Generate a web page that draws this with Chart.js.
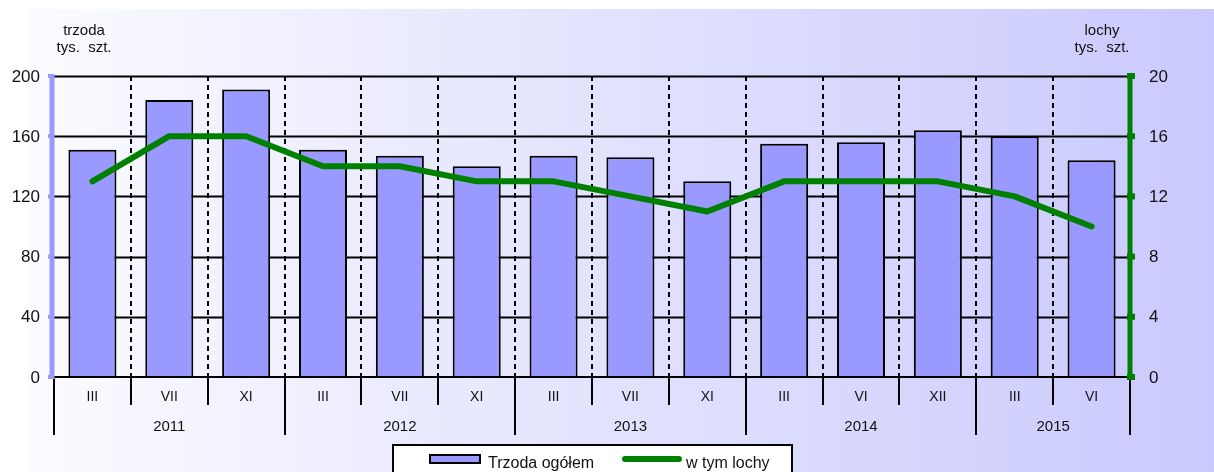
<!DOCTYPE html>
<html>
<head>
<meta charset="utf-8">
<script src="https://cdn.jsdelivr.net/npm/chart.js@4"></script>
<style>
  html, body { margin: 0; padding: 0; background: #fff; }
  canvas { display: block; }
</style>
</head>
<body>
<canvas id="myChart" width="1214" height="472"></canvas>
<script>
// categories
var months = ['III', 'VII', 'XI', 'III', 'VII', 'XI', 'III', 'VII', 'XI', 'III', 'VI', 'XII', 'III', 'VI'];
var periodYears = ['2011', '2011', '2011', '2012', '2012', '2012', '2013', '2013', '2013', '2014', '2014', '2014', '2015', '2015'];

// series (tys. szt.)
var trzoda = [151, 184, 191, 151, 147, 140, 147, 146, 130, 155, 156, 164, 160, 144];
var lochy = [13, 16, 16, 14, 14, 13, 13, 12, 11, 13, 13, 13, 12, 10];

// tick labels
var leftTicks = [0, 40, 80, 120, 160, 200];
var rightTicks = [0, 4, 8, 12, 16, 20];

var FONT = '"Liberation Sans", Arial, sans-serif';

var decor = {
    id: 'decor',
    beforeDraw: function (chart) {
        var c = chart.ctx;
        c.save();
        c.fillStyle = '#ffffff';
        c.fillRect(0, 0, chart.width, chart.height);
        var g = c.createLinearGradient(27, 0, chart.width, 0);
        g.addColorStop(0, '#fbfbff');
        g.addColorStop(1, '#c9c9fd');
        c.fillStyle = g;
        c.fillRect(27, 9, chart.width - 27, chart.height - 9);
        c.restore();
    },
    beforeDatasetsDraw: function (chart) {
        var c = chart.ctx, a = chart.chartArea;
        var x = chart.scales.x, y = chart.scales.y;
        c.save();
        // horizontal grid
        c.strokeStyle = '#000';
        c.lineWidth = 2;
        leftTicks.forEach(function (t) {
            if (t === 0) return;
            var py = Math.round(y.getPixelForValue(t)) + 0.5;
            c.beginPath(); c.moveTo(a.left, py); c.lineTo(a.right, py); c.stroke();
        });
        // dashed category separators
        c.setLineDash([5, 4]);
        c.lineWidth = 2;
        for (var i = 1; i < months.length; i++) {
            var px = Math.round((x.getPixelForValue(i - 1) + x.getPixelForValue(i)) / 2);
            c.beginPath(); c.moveTo(px, a.top); c.lineTo(px, a.bottom); c.stroke();
        }
        c.restore();
    },
    afterDatasetsDraw: function (chart) {
        var c = chart.ctx, a = chart.chartArea;
        var x = chart.scales.x, y = chart.scales.y, y1 = chart.scales.y1;
        var n = months.length;
        function edge(i) {
            if (i === 0) return a.left;
            if (i === n) return a.right;
            return (x.getPixelForValue(i - 1) + x.getPixelForValue(i)) / 2;
        }
        c.save();
        // x axis baseline
        c.strokeStyle = '#000';
        c.lineWidth = 2;
        c.beginPath(); c.moveTo(a.left, a.bottom); c.lineTo(a.right, a.bottom); c.stroke();
        // category ticks & year separators
        for (var i = 0; i <= n; i++) {
            var px = Math.round(edge(i));
            var yearEdge = (i === 0 || i === n || periodYears[i] !== periodYears[i - 1]);
            c.beginPath(); c.moveTo(px, a.bottom); c.lineTo(px, yearEdge ? a.bottom + 58 : a.bottom + 28); c.stroke();
        }
        // month labels
        c.fillStyle = '#111';
        c.textAlign = 'center';
        c.textBaseline = 'middle';
        c.font = '14px ' + FONT;
        months.forEach(function (m, i) {
            c.fillText(m, x.getPixelForValue(i), a.bottom + 20);
        });
        // year labels
        c.font = '15px ' + FONT;
        var start = 0;
        for (var j = 1; j <= n; j++) {
            if (j === n || periodYears[j] !== periodYears[start]) {
                c.fillText(periodYears[start], (edge(start) + edge(j)) / 2, a.bottom + 50);
                start = j;
            }
        }
        // left axis
        c.strokeStyle = '#9999ff';
        c.lineWidth = 5;
        c.beginPath(); c.moveTo(a.left - 2, y.getPixelForValue(200) - 2); c.lineTo(a.left - 2, y.getPixelForValue(0) + 2); c.stroke();
        c.font = '17px ' + FONT;
        leftTicks.forEach(function (t) {
            var py = y.getPixelForValue(t);
            c.fillStyle = '#9999ff';
            c.fillRect(a.left - 6, py - 2, 6, 4);
            c.fillStyle = '#111';
            c.textAlign = 'right';
            c.fillText(String(t), 40, py + 1);
        });
        // right axis
        c.strokeStyle = '#008000';
        c.lineWidth = 5;
        c.beginPath(); c.moveTo(a.right, y1.getPixelForValue(20)); c.lineTo(a.right, y1.getPixelForValue(0)); c.stroke();
        rightTicks.forEach(function (t) {
            var py = y1.getPixelForValue(t);
            c.fillStyle = '#008000';
            c.fillRect(a.right - 3, py - 3, 8, 6);
            c.fillStyle = '#111';
            c.textAlign = 'left';
            c.fillText(String(t), a.right + 19, py + 1);
        });
        // axis titles
        c.font = '15px ' + FONT;
        c.textAlign = 'center';
        c.fillText('trzoda', 84, 31);
        c.fillText('tys.  szt.', 84, 48);
        c.fillText('lochy', 1102, 31);
        c.fillText('tys.  szt.', 1102, 48);
        // legend
        c.fillStyle = '#fff';
        c.fillRect(393, 445, 399, 40);
        c.strokeStyle = '#000';
        c.lineWidth = 2;
        c.strokeRect(393, 445, 399, 40);
        c.fillStyle = '#9999ff';
        c.fillRect(430, 455, 50, 8);
        c.strokeRect(430, 455, 50, 8);
        c.strokeStyle = '#008000';
        c.lineWidth = 6;
        c.lineCap = 'round';
        c.beginPath(); c.moveTo(625, 459); c.lineTo(679, 459); c.stroke();
        c.fillStyle = '#111';
        c.textAlign = 'left';
        c.font = '16px ' + FONT;
        c.fillText(chart.data.datasets[0].label, 488, 464);
        c.fillText(chart.data.datasets[1].label, 686, 464);
        c.restore();
    }
};

var ctx = document.getElementById('myChart').getContext('2d');
var chart = new Chart(ctx, {
    type: 'bar',
    data: {
        labels: months,
        datasets: [{
            type: 'bar',
            label: 'Trzoda ogółem',
            data: trzoda,
            yAxisID: 'y',
            backgroundColor: '#9999ff',
            borderColor: '#000',
            borderWidth: 2,
            barPercentage: 0.625,
            categoryPercentage: 1,
            order: 1
        },
        {
            type: 'line',
            label: 'w tym lochy',
            data: lochy,
            yAxisID: 'y1',
            borderColor: '#008000',
            borderWidth: 6,
            borderCapStyle: 'round',
            borderJoinStyle: 'round',
            pointRadius: 0,
            tension: 0,
            fill: false,
            order: 0
        }]
    },
    options: {
        responsive: false,
        animation: false,
        layout: { padding: { left: 54, right: 84, top: 76, bottom: 95 } },
        plugins: { legend: { display: false }, tooltip: { enabled: false } },
        scales: {
            x: { display: false, offset: true },
            y: { display: false, min: 0, max: 200 },
            y1: { display: false, min: 0, max: 20, position: 'right' }
        }
    },
    plugins: [decor]
});
</script>
</body>
</html>
